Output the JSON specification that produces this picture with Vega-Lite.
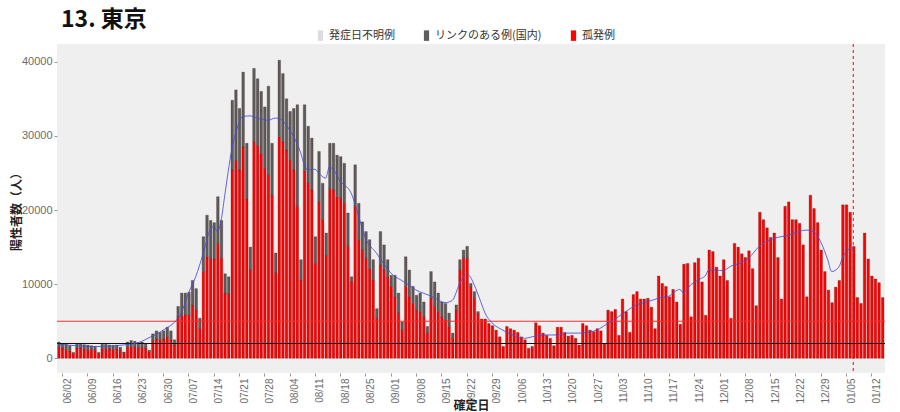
{
  "$schema": "https://vega.github.io/schema/vega-lite/v6.json",
  "width": 828, "height": 329,
  "autosize": {"type": "none"},
  "padding": {"left": 57, "top": 44, "right": 15, "bottom": 39},
  "background": "white",
  "title": {"text": "13. 東京", "anchor": "start", "frame": "group", "font": "Noto Sans CJK JP", "fontSize": 23, "fontWeight": "bold", "color": "#111", "offset": -2, "dx": 4},
  "datasets": {
    "bars": [
      {"d":"2022-06-01","isolated":1500,"linked":700},{"d":"2022-06-02","isolated":1400,"linked":600},{"d":"2022-06-03","isolated":1200,"linked":700},{"d":"2022-06-04","isolated":1000,"linked":700},{"d":"2022-06-05","isolated":650,"linked":150},
      {"d":"2022-06-06","isolated":1400,"linked":600},{"d":"2022-06-07","isolated":1400,"linked":600},{"d":"2022-06-08","isolated":1300,"linked":550},{"d":"2022-06-09","isolated":1200,"linked":600},{"d":"2022-06-10","isolated":1200,"linked":500},{"d":"2022-06-11","isolated":1100,"linked":500},{"d":"2022-06-12","isolated":650,"linked":150},
      {"d":"2022-06-13","isolated":1300,"linked":600},{"d":"2022-06-14","isolated":1350,"linked":550},{"d":"2022-06-15","isolated":1250,"linked":550},{"d":"2022-06-16","isolated":1200,"linked":550},{"d":"2022-06-17","isolated":1300,"linked":500},{"d":"2022-06-18","isolated":1100,"linked":400},{"d":"2022-06-19","isolated":700,"linked":150},
      {"d":"2022-06-20","isolated":1500,"linked":700},{"d":"2022-06-21","isolated":1600,"linked":800},{"d":"2022-06-22","isolated":1500,"linked":800},{"d":"2022-06-23","isolated":1400,"linked":700},{"d":"2022-06-24","isolated":1500,"linked":700},{"d":"2022-06-25","isolated":1400,"linked":600},{"d":"2022-06-26","isolated":900,"linked":200},
      {"d":"2022-06-27","isolated":2400,"linked":900},{"d":"2022-06-28","isolated":2600,"linked":1100},{"d":"2022-06-29","isolated":2500,"linked":1000},{"d":"2022-06-30","isolated":2600,"linked":1100},{"d":"2022-07-01","isolated":2900,"linked":1300},{"d":"2022-07-02","isolated":2500,"linked":1200},{"d":"2022-07-03","isolated":1800,"linked":700},
      {"d":"2022-07-04","isolated":5600,"linked":1400},{"d":"2022-07-05","isolated":5800,"linked":3000},{"d":"2022-07-06","isolated":5900,"linked":2900},{"d":"2022-07-07","isolated":5900,"linked":3000},{"d":"2022-07-08","isolated":7200,"linked":3300},{"d":"2022-07-09","isolated":6500,"linked":2900},{"d":"2022-07-10","isolated":4000,"linked":1400},
      {"d":"2022-07-11","isolated":11700,"linked":4700},{"d":"2022-07-12","isolated":13700,"linked":5600},{"d":"2022-07-13","isolated":13500,"linked":5100},{"d":"2022-07-14","isolated":13400,"linked":4900},{"d":"2022-07-15","isolated":15500,"linked":6300},{"d":"2022-07-16","isolated":13500,"linked":5100},{"d":"2022-07-17","isolated":8800,"linked":2600},
      {"d":"2022-07-18","isolated":8700,"linked":2300},{"d":"2022-07-19","isolated":25400,"linked":9400},{"d":"2022-07-20","isolated":26700,"linked":9500},{"d":"2022-07-21","isolated":25400,"linked":8300},{"d":"2022-07-22","isolated":28500,"linked":10100},{"d":"2022-07-23","isolated":21500,"linked":7500},{"d":"2022-07-24","isolated":11900,"linked":3100},
      {"d":"2022-07-25","isolated":29200,"linked":9900},{"d":"2022-07-26","isolated":28700,"linked":9000},{"d":"2022-07-27","isolated":27600,"linked":8400},{"d":"2022-07-28","isolated":25600,"linked":8300},{"d":"2022-07-29","isolated":24700,"linked":12000},{"d":"2022-07-30","isolated":22000,"linked":7000},{"d":"2022-07-31","isolated":11500,"linked":2700},
      {"d":"2022-08-01","isolated":29900,"linked":10300},{"d":"2022-08-02","isolated":29200,"linked":9200},{"d":"2022-08-03","isolated":28100,"linked":6900},{"d":"2022-08-04","isolated":26700,"linked":6600},{"d":"2022-08-05","isolated":25400,"linked":8300},{"d":"2022-08-06","isolated":20500,"linked":13700},{"d":"2022-08-07","isolated":10600,"linked":2700},
      {"d":"2022-08-08","isolated":25300,"linked":8900},{"d":"2022-08-09","isolated":23700,"linked":7600},{"d":"2022-08-10","isolated":22700,"linked":7000},{"d":"2022-08-11","isolated":12800,"linked":3600},{"d":"2022-08-12","isolated":21100,"linked":6800},{"d":"2022-08-13","isolated":18700,"linked":4900},{"d":"2022-08-14","isolated":13900,"linked":3000},
      {"d":"2022-08-15","isolated":22900,"linked":6100},{"d":"2022-08-16","isolated":22700,"linked":6300},{"d":"2022-08-17","isolated":21800,"linked":5600},{"d":"2022-08-18","isolated":21600,"linked":5600},{"d":"2022-08-19","isolated":20900,"linked":5400},{"d":"2022-08-20","isolated":15100,"linked":4500},{"d":"2022-08-21","isolated":10300,"linked":700},
      {"d":"2022-08-22","isolated":20500,"linked":5600},{"d":"2022-08-23","isolated":16000,"linked":4900},{"d":"2022-08-24","isolated":14600,"linked":3800},{"d":"2022-08-25","isolated":13500,"linked":3600},{"d":"2022-08-26","isolated":12100,"linked":3900},{"d":"2022-08-27","isolated":10600,"linked":2700},{"d":"2022-08-28","isolated":5400,"linked":1300},
      {"d":"2022-08-29","isolated":12600,"linked":4500},{"d":"2022-08-30","isolated":11900,"linked":3400},{"d":"2022-08-31","isolated":11000,"linked":2300},{"d":"2022-09-01","isolated":9700,"linked":1500},{"d":"2022-09-02","isolated":8300,"linked":2900},{"d":"2022-09-03","isolated":6100,"linked":2700},{"d":"2022-09-04","isolated":3800,"linked":1100},
      {"d":"2022-09-05","isolated":9700,"linked":4000},{"d":"2022-09-06","isolated":8300,"linked":3600},{"d":"2022-09-07","isolated":7400,"linked":2300},{"d":"2022-09-08","isolated":6500,"linked":2000},{"d":"2022-09-09","isolated":6300,"linked":2500},{"d":"2022-09-10","isolated":5600,"linked":2000},{"d":"2022-09-11","isolated":3400,"linked":900},
      {"d":"2022-09-12","isolated":8100,"linked":3600},{"d":"2022-09-13","isolated":7000,"linked":3300},{"d":"2022-09-14","isolated":6300,"linked":2500},{"d":"2022-09-15","isolated":5600,"linked":2000},{"d":"2022-09-16","isolated":5200,"linked":2200},{"d":"2022-09-17","isolated":4300,"linked":1800},{"d":"2022-09-18","isolated":2700,"linked":700},
      {"d":"2022-09-19","isolated":6500,"linked":700},{"d":"2022-09-20","isolated":11900,"linked":1400},{"d":"2022-09-21","isolated":13500,"linked":1100},{"d":"2022-09-22","isolated":13500,"linked":1600},{"d":"2022-09-23","isolated":9600,"linked":500},{"d":"2022-09-24","isolated":8100,"linked":900},{"d":"2022-09-25","isolated":6000,"linked":300},
      {"d":"2022-09-26","isolated":5300,"linked":0},{"d":"2022-09-27","isolated":5300,"linked":0},{"d":"2022-09-28","isolated":4700,"linked":0},{"d":"2022-09-29","isolated":4400,"linked":0},{"d":"2022-09-30","isolated":3800,"linked":0},{"d":"2022-10-01","isolated":2900,"linked":0},{"d":"2022-10-02","isolated":1600,"linked":0},
      {"d":"2022-10-03","isolated":4300,"linked":0},{"d":"2022-10-04","isolated":4000,"linked":0},{"d":"2022-10-05","isolated":3800,"linked":0},{"d":"2022-10-06","isolated":3500,"linked":0},{"d":"2022-10-07","isolated":2900,"linked":0},{"d":"2022-10-08","isolated":2500,"linked":0},{"d":"2022-10-09","isolated":1350,"linked":0},
      {"d":"2022-10-10","isolated":1600,"linked":0},{"d":"2022-10-11","isolated":4800,"linked":0},{"d":"2022-10-12","isolated":4400,"linked":0},{"d":"2022-10-13","isolated":3400,"linked":0},{"d":"2022-10-14","isolated":3100,"linked":0},{"d":"2022-10-15","isolated":2700,"linked":0},{"d":"2022-10-16","isolated":1700,"linked":0},
      {"d":"2022-10-17","isolated":4200,"linked":0},{"d":"2022-10-18","isolated":4200,"linked":0},{"d":"2022-10-19","isolated":3500,"linked":0},{"d":"2022-10-20","isolated":3000,"linked":0},{"d":"2022-10-21","isolated":3100,"linked":0},{"d":"2022-10-22","isolated":2700,"linked":0},{"d":"2022-10-23","isolated":1800,"linked":0},
      {"d":"2022-10-24","isolated":4700,"linked":0},{"d":"2022-10-25","isolated":4400,"linked":0},{"d":"2022-10-26","isolated":3800,"linked":0},{"d":"2022-10-27","isolated":3600,"linked":0},{"d":"2022-10-28","isolated":4000,"linked":0},{"d":"2022-10-29","isolated":3700,"linked":0},{"d":"2022-10-30","isolated":2000,"linked":0},
      {"d":"2022-10-31","isolated":6500,"linked":0},{"d":"2022-11-01","isolated":6300,"linked":0},{"d":"2022-11-02","isolated":6600,"linked":0},{"d":"2022-11-03","isolated":3100,"linked":0},{"d":"2022-11-04","isolated":8000,"linked":0},{"d":"2022-11-05","isolated":6300,"linked":0},{"d":"2022-11-06","isolated":3500,"linked":0},
      {"d":"2022-11-07","isolated":8600,"linked":0},{"d":"2022-11-08","isolated":9000,"linked":0},{"d":"2022-11-09","isolated":8000,"linked":0},{"d":"2022-11-10","isolated":8000,"linked":0},{"d":"2022-11-11","isolated":8100,"linked":0},{"d":"2022-11-12","isolated":6900,"linked":0},{"d":"2022-11-13","isolated":4000,"linked":0},
      {"d":"2022-11-14","isolated":11100,"linked":0},{"d":"2022-11-15","isolated":10100,"linked":0},{"d":"2022-11-16","isolated":9700,"linked":0},{"d":"2022-11-17","isolated":8300,"linked":0},{"d":"2022-11-18","isolated":9300,"linked":0},{"d":"2022-11-19","isolated":7600,"linked":0},{"d":"2022-11-20","isolated":4600,"linked":0},
      {"d":"2022-11-21","isolated":12700,"linked":0},{"d":"2022-11-22","isolated":12800,"linked":0},{"d":"2022-11-23","isolated":5600,"linked":0},{"d":"2022-11-24","isolated":12900,"linked":0},{"d":"2022-11-25","isolated":13500,"linked":0},{"d":"2022-11-26","isolated":10300,"linked":0},{"d":"2022-11-27","isolated":5800,"linked":0},
      {"d":"2022-11-28","isolated":14600,"linked":0},{"d":"2022-11-29","isolated":14400,"linked":0},{"d":"2022-11-30","isolated":12300,"linked":0},{"d":"2022-12-01","isolated":11100,"linked":0},{"d":"2022-12-02","isolated":13300,"linked":0},{"d":"2022-12-03","isolated":10500,"linked":0},{"d":"2022-12-04","isolated":5400,"linked":0},
      {"d":"2022-12-05","isolated":15500,"linked":0},{"d":"2022-12-06","isolated":15000,"linked":0},{"d":"2022-12-07","isolated":14100,"linked":0},{"d":"2022-12-08","isolated":13600,"linked":0},{"d":"2022-12-09","isolated":14500,"linked":0},{"d":"2022-12-10","isolated":12100,"linked":0},{"d":"2022-12-11","isolated":7100,"linked":0},
      {"d":"2022-12-12","isolated":19700,"linked":0},{"d":"2022-12-13","isolated":18700,"linked":0},{"d":"2022-12-14","isolated":17600,"linked":0},{"d":"2022-12-15","isolated":16300,"linked":0},{"d":"2022-12-16","isolated":16900,"linked":0},{"d":"2022-12-17","isolated":13600,"linked":0},{"d":"2022-12-18","isolated":8000,"linked":0},
      {"d":"2022-12-19","isolated":20500,"linked":0},{"d":"2022-12-20","isolated":21100,"linked":0},{"d":"2022-12-21","isolated":18700,"linked":0},{"d":"2022-12-22","isolated":18700,"linked":0},{"d":"2022-12-23","isolated":18200,"linked":0},{"d":"2022-12-24","isolated":15300,"linked":0},{"d":"2022-12-25","isolated":8300,"linked":0},
      {"d":"2022-12-26","isolated":22000,"linked":0},{"d":"2022-12-27","isolated":20200,"linked":0},{"d":"2022-12-28","isolated":18300,"linked":0},{"d":"2022-12-29","isolated":14600,"linked":0},{"d":"2022-12-30","isolated":11700,"linked":0},{"d":"2022-12-31","isolated":9200,"linked":0},{"d":"2023-01-01","isolated":7500,"linked":0},
      {"d":"2023-01-02","isolated":9600,"linked":0},{"d":"2023-01-03","isolated":10500,"linked":0},{"d":"2023-01-04","isolated":20700,"linked":0},{"d":"2023-01-05","isolated":20700,"linked":0},{"d":"2023-01-06","isolated":19700,"linked":0},{"d":"2023-01-07","isolated":15100,"linked":0},{"d":"2023-01-08","isolated":8200,"linked":0},
      {"d":"2023-01-09","isolated":7400,"linked":0},{"d":"2023-01-10","isolated":16900,"linked":0},{"d":"2023-01-11","isolated":13400,"linked":0},{"d":"2023-01-12","isolated":11100,"linked":0},{"d":"2023-01-13","isolated":10700,"linked":0},{"d":"2023-01-14","isolated":10200,"linked":0},{"d":"2023-01-15","isolated":8200,"linked":0}
    ],
    "avg": [
      {"d":"2022-06-01","v":1900},{"d":"2022-06-03","v":1800},{"d":"2022-06-06","v":1700},{"d":"2022-06-09","v":1600},{"d":"2022-06-13","v":1600},{"d":"2022-06-17","v":1700},{"d":"2022-06-20","v":1850},{"d":"2022-06-23","v":2100},{"d":"2022-06-25","v":2500},{"d":"2022-06-27","v":3000},{"d":"2022-06-29","v":3500},
      {"d":"2022-07-01","v":4100},{"d":"2022-07-03","v":4800},{"d":"2022-07-05","v":6100},{"d":"2022-07-07","v":8800},{"d":"2022-07-09","v":11000},{"d":"2022-07-11","v":14000},{"d":"2022-07-13","v":17300},{"d":"2022-07-14","v":17800},{"d":"2022-07-15","v":17100},{"d":"2022-07-16","v":18500},{"d":"2022-07-17","v":21800},{"d":"2022-07-18","v":25200},{"d":"2022-07-19","v":28200},{"d":"2022-07-20","v":30200},{"d":"2022-07-22","v":32600},{"d":"2022-07-24","v":32700},{"d":"2022-07-26","v":32400},{"d":"2022-07-29","v":32100},{"d":"2022-07-31","v":32400},
      {"d":"2022-08-02","v":32100},{"d":"2022-08-03","v":31500},{"d":"2022-08-05","v":30000},{"d":"2022-08-07","v":27800},{"d":"2022-08-08","v":26200},{"d":"2022-08-09","v":25400},{"d":"2022-08-11","v":25500},{"d":"2022-08-12","v":25000},{"d":"2022-08-14","v":24300},{"d":"2022-08-15","v":25800},{"d":"2022-08-16","v":25500},{"d":"2022-08-18","v":23900},{"d":"2022-08-21","v":22300},{"d":"2022-08-23","v":19300},{"d":"2022-08-25","v":16200},{"d":"2022-08-28","v":14200},{"d":"2022-08-30","v":12800},
      {"d":"2022-09-01","v":11500},{"d":"2022-09-04","v":10500},{"d":"2022-09-06","v":9900},{"d":"2022-09-08","v":9200},{"d":"2022-09-10","v":8800},{"d":"2022-09-13","v":8200},{"d":"2022-09-16","v":7500},{"d":"2022-09-18","v":7800},{"d":"2022-09-20","v":10000},{"d":"2022-09-22","v":11400},{"d":"2022-09-23","v":11000},{"d":"2022-09-24","v":10000},{"d":"2022-09-26","v":7500},{"d":"2022-09-27","v":6200},{"d":"2022-09-29","v":4800},
      {"d":"2022-10-02","v":3800},{"d":"2022-10-05","v":3100},{"d":"2022-10-08","v":2700},{"d":"2022-10-11","v":3000},{"d":"2022-10-14","v":3150},{"d":"2022-10-17","v":3150},{"d":"2022-10-20","v":3400},{"d":"2022-10-23","v":3400},{"d":"2022-10-26","v":3550},{"d":"2022-10-28","v":3800},{"d":"2022-10-31","v":4700},
      {"d":"2022-11-03","v":5600},{"d":"2022-11-05","v":6300},{"d":"2022-11-08","v":7200},{"d":"2022-11-11","v":7600},{"d":"2022-11-14","v":8100},{"d":"2022-11-17","v":8400},{"d":"2022-11-20","v":9300},{"d":"2022-11-21","v":8800},{"d":"2022-11-23","v":9900},{"d":"2022-11-26","v":10800},{"d":"2022-11-27","v":11100},{"d":"2022-11-28","v":11900},{"d":"2022-11-30","v":11900},
      {"d":"2022-12-02","v":11800},{"d":"2022-12-04","v":12400},{"d":"2022-12-07","v":12900},{"d":"2022-12-09","v":13500},{"d":"2022-12-12","v":15100},{"d":"2022-12-15","v":16000},{"d":"2022-12-18","v":16400},{"d":"2022-12-20","v":16600},{"d":"2022-12-23","v":17100},{"d":"2022-12-25","v":17300},{"d":"2022-12-27","v":17100},{"d":"2022-12-29","v":15700},{"d":"2022-12-31","v":13200},
      {"d":"2023-01-01","v":11700},{"d":"2023-01-03","v":12300},{"d":"2023-01-04","v":13500},{"d":"2023-01-06","v":14800},{"d":"2023-01-07","v":14900}
    ],
    "refs": [{"red": 5000, "black": 2000, "cut": "2023-01-07T12:00:00Z"}]
  },
  "layer": [
    {
      "data": {"name": "bars"},
      "transform": [
        {"fold": ["isolated", "linked"], "as": ["type", "n"]},
        {"filter": "datum.n > 0"}
      ],
      "mark": {"type": "bar", "clip": true, "stroke": "#401818", "strokeWidth": 0.5, "strokeOpacity": 0.5},
      "encoding": {
        "x": {
          "field": "d", "type": "temporal", "timeUnit": "utcyearmonthdate", "title": "確定日",
          "scale": {"type": "utc", "domain": [
            {"year": 2022, "month": 6, "date": 1, "hours": 2, "minutes": 47, "utc": true},
            {"year": 2023, "month": 1, "date": 16, "hours": 6, "minutes": 51, "utc": true}
          ]},
          "axis": {
            "values": [
              {"year":2022,"month":6,"date":2,"hours":12,"utc":true},{"year":2022,"month":6,"date":9,"hours":12,"utc":true},{"year":2022,"month":6,"date":16,"hours":12,"utc":true},{"year":2022,"month":6,"date":23,"hours":12,"utc":true},{"year":2022,"month":6,"date":30,"hours":12,"utc":true},
              {"year":2022,"month":7,"date":7,"hours":12,"utc":true},{"year":2022,"month":7,"date":14,"hours":12,"utc":true},{"year":2022,"month":7,"date":21,"hours":12,"utc":true},{"year":2022,"month":7,"date":28,"hours":12,"utc":true},
              {"year":2022,"month":8,"date":4,"hours":12,"utc":true},{"year":2022,"month":8,"date":11,"hours":12,"utc":true},{"year":2022,"month":8,"date":18,"hours":12,"utc":true},{"year":2022,"month":8,"date":25,"hours":12,"utc":true},
              {"year":2022,"month":9,"date":1,"hours":12,"utc":true},{"year":2022,"month":9,"date":8,"hours":12,"utc":true},{"year":2022,"month":9,"date":15,"hours":12,"utc":true},{"year":2022,"month":9,"date":22,"hours":12,"utc":true},{"year":2022,"month":9,"date":29,"hours":12,"utc":true},
              {"year":2022,"month":10,"date":6,"hours":12,"utc":true},{"year":2022,"month":10,"date":13,"hours":12,"utc":true},{"year":2022,"month":10,"date":20,"hours":12,"utc":true},{"year":2022,"month":10,"date":27,"hours":12,"utc":true},
              {"year":2022,"month":11,"date":3,"hours":12,"utc":true},{"year":2022,"month":11,"date":10,"hours":12,"utc":true},{"year":2022,"month":11,"date":17,"hours":12,"utc":true},{"year":2022,"month":11,"date":24,"hours":12,"utc":true},
              {"year":2022,"month":12,"date":1,"hours":12,"utc":true},{"year":2022,"month":12,"date":8,"hours":12,"utc":true},{"year":2022,"month":12,"date":15,"hours":12,"utc":true},{"year":2022,"month":12,"date":22,"hours":12,"utc":true},{"year":2022,"month":12,"date":29,"hours":12,"utc":true},
              {"year":2023,"month":1,"date":5,"hours":12,"utc":true},{"year":2023,"month":1,"date":12,"hours":12,"utc":true}
            ],
            "tickCount": 60, "format": "%m/%d", "labelOverlap": false
          }
        },
        "y": {
          "field": "n", "type": "quantitative", "stack": "zero", "title": "陽性者数（人）",
          "scale": {"domain": [-1980, 42390], "nice": false, "zero": false},
          "axis": {"values": [0, 10000, 20000, 30000, 40000], "format": "d", "labelOverlap": false}
        },
        "color": {
          "field": "type", "type": "nominal",
          "scale": {"domain": ["unknown", "linked", "isolated"], "range": ["#dcdcdc", "#5c5c5c", "#ff0000"]},
          "legend": {
            "orient": "none", "legendX": 258, "legendY": -14, "direction": "horizontal", "title": null,
            "symbolType": "M-0.5,-1H0.5V1H-0.5Z", "symbolSize": 110, "symbolStrokeWidth": 0, "symbolOpacity": 1,
            "labelFont": "Noto Sans CJK JP", "labelFontSize": 11, "labelColor": "#333", "labelOffset": 3, "columnPadding": 26,
            "labelExpr": "datum.label == 'isolated' ? '孤発例' : datum.label == 'linked' ? 'リンクのある例(国内)' : '発症日不明例'"
          }
        },
        "order": {"field": "type", "type": "nominal", "sort": "ascending"}
      }
    },
    {
      "data": {"name": "refs"},
      "mark": {"type": "rule", "color": "#ff2a2a", "strokeWidth": 1},
      "encoding": {"y": {"field": "red", "type": "quantitative", "axis": {"labelOverlap": false}}}
    },
    {
      "data": {"name": "refs"},
      "mark": {"type": "rule", "color": "#111111", "strokeWidth": 1},
      "encoding": {"y": {"field": "black", "type": "quantitative", "axis": {"labelOverlap": false}}}
    },
    {
      "data": {"name": "avg"},
      "mark": {"type": "line", "color": "#4a4ad6", "strokeWidth": 1, "opacity": 0.85, "interpolate": "monotone"},
      "encoding": {
        "x": {"field": "d", "type": "temporal", "timeUnit": "utcyearmonthdate", "bandPosition": 0.5, "axis": {"labelOverlap": false, "tickCount": 60}},
        "y": {"field": "v", "type": "quantitative", "axis": {"labelOverlap": false}}
      }
    },
    {
      "data": {"name": "refs"},
      "mark": {"type": "rule", "color": "#ff0000", "strokeWidth": 1, "strokeDash": [3, 3]},
      "encoding": {"x": {"field": "cut", "type": "temporal", "axis": {"labelOverlap": false, "tickCount": 60}}}
    }
  ],
  "config": {
    "view": {"fill": "#efefef", "stroke": null},
    "font": "Noto Sans CJK JP",
    "axis": {
      "labelFont": "Liberation Sans", "labelColor": "#6b6b6b", "tickSize": 3, "tickColor": "#999",
      "domain": false, "grid": false, "labelOverlap": false,
      "titleFont": "Noto Sans CJK JP", "titleFontSize": 12, "titleFontWeight": "bold", "titleColor": "#222"
    },
    "axisX": {
      "labelAngle": 270, "labelAlign": "right", "labelBaseline": "top", "labelFontSize": 10,
      "labelPadding": 2, "labelOverlap": false, "labelFlush": false, "labelBound": false,
      "titleY": 32, "titleBaseline": "middle", "titlePadding": 0
    },
    "axisY": {"labelFontSize": 11, "labelPadding": 2, "titlePadding": -2}
  }
}
